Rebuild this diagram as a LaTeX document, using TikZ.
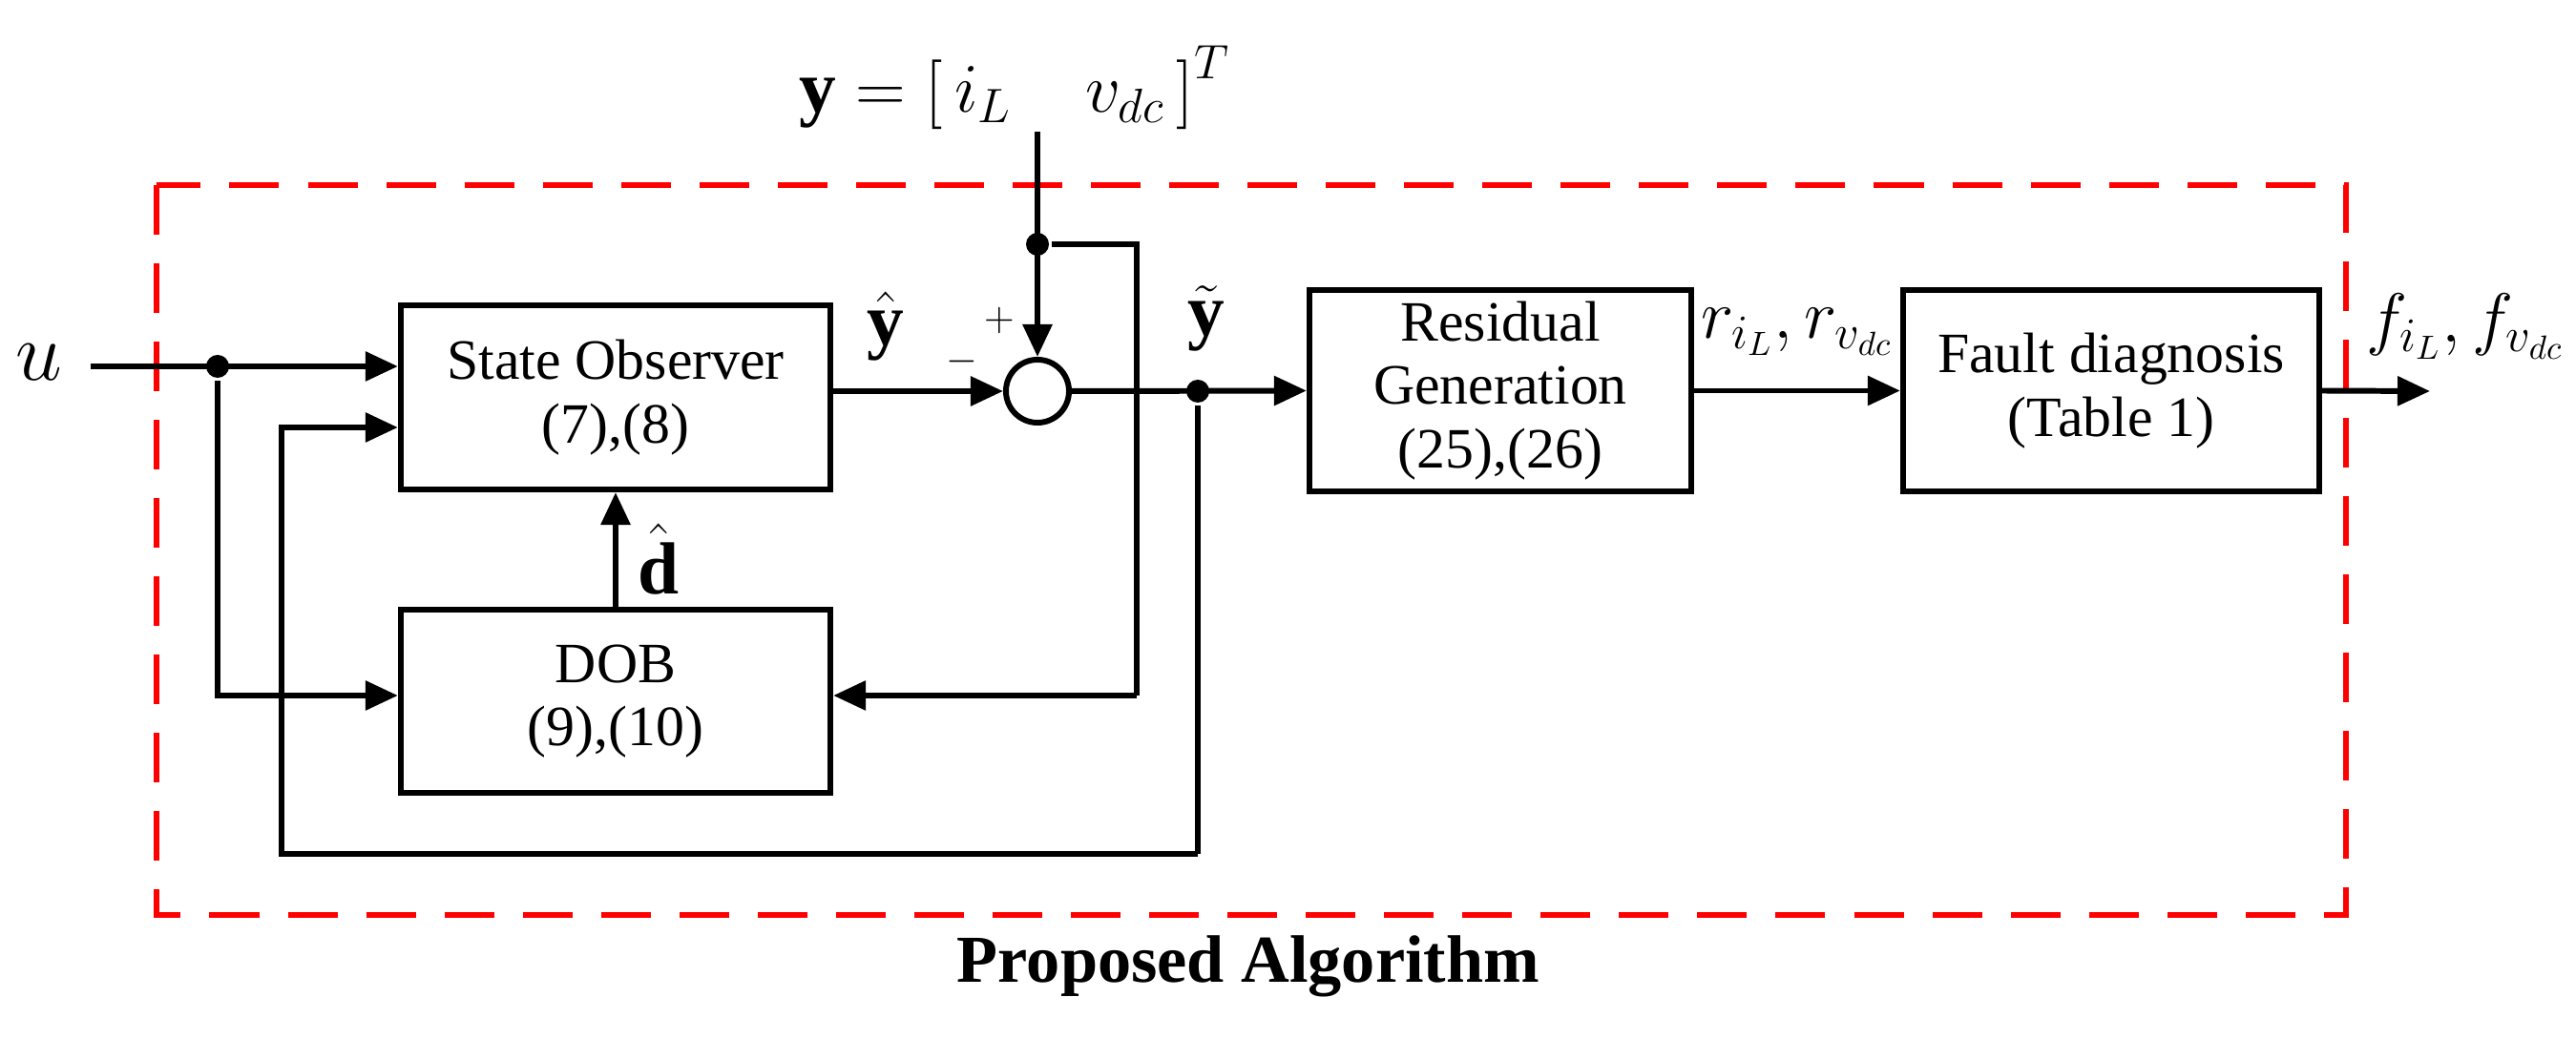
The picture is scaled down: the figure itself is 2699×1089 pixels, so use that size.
\documentclass[tikz,border=0pt]{standalone}
\usepackage{fontspec}
\setmainfont{Liberation Serif}
\usetikzlibrary{arrows.meta}
\begin{document}
\begin{tikzpicture}[x=0.01cm,y=-0.01cm,
  line width=1.7pt,
  arr/.style={-{Triangle[length=0.34cm,width=0.30cm]}},
  dot/.style={circle,fill,inner sep=0pt,minimum size=0.24cm},
  txt/.style={font=\fontsize{17}{19}\selectfont,align=center},
  lab/.style={font=\fontsize{22}{26}\selectfont,inner sep=0pt}]
\useasboundingbox (0,0) rectangle (2699,1089);
% red dashed frame
\draw[red,line width=1.8pt,dash pattern=on 0.52cm off 0.3cm] (164,194) rectangle (2458,959);
% blocks
\node[draw,txt,minimum width=4.5cm,minimum height=1.93cm] (so) at (645,416.5) {State Observer\\(7),(8)};
\node[draw,txt,minimum width=4.5cm,minimum height=1.92cm] (dob) at (645,735) {DOB\\(9),(10)};
\node[draw,txt,minimum width=4.0cm,minimum height=2.11cm] (rg) at (1572,409.5) {Residual\\Generation\\(25),(26)};
\node[draw,txt,minimum width=4.36cm,minimum height=2.11cm] (fd) at (2212,409.5) {Fault diagnosis\\(Table 1)};
\node[draw,circle,minimum size=0.66cm,inner sep=0pt] (sum) at (1087,410) {};
% coordinates
\coordinate (uin) at (95,384);
\node[dot] (j1) at (228,384) {};
\node[dot] (j2) at (1087,256) {};
\node[dot] (j3) at (1255,410) {};
\coordinate (ytop) at (1087,138);
\coordinate (c1) at (1191,256);
\coordinate (c2) at (1191,729);
\coordinate (c3) at (1255,895);
\coordinate (c4) at (295,895);
\coordinate (c5) at (295,448);
\coordinate (c6) at (228,729);
\coordinate (out) at (2546,410);
% connectors
\draw[arr] (uin) -- (so.west |- uin);
\draw[arr] (j1) -- (c6) -- (dob.west |- c6);
\draw[arr] (c3) -- (c4) -- (c5) -- (so.west |- c5);
\draw (j3) -- (c3);
\draw[arr] (dob.north) -- (so.south);
\draw[arr] (so.east |- sum) -- (sum.west);
\draw[arr] (ytop) -- (sum.north);
\draw (j2) -- (c1) -- (c2);
\draw[arr] (c2) -- (dob.east |- c2);
\draw[arr] (sum.east) -- (rg.west);
\draw[arr] (rg.east) -- (fd.west);
\draw[arr] (fd.east) -- (out);
% labels
\node[lab,font=\fontsize{30}{32}\selectfont] (lu) at (41,380) {$u$};
\node[lab] (lyh) at (928,342) {$\hat{\mathbf{y}}$};
\node[lab] (lyt) at (1264,334) {$\tilde{\mathbf{y}}$};
\node[lab] (ldh) at (690,586) {$\hat{\mathbf{d}}$};
\node[font=\fontsize{13}{14}\selectfont] (lm) at (1008,379) {$-$};
\node[font=\fontsize{13}{14}\selectfont] (lp) at (1047,336) {$+$};
\node[lab,anchor=west] (ly) at (835,92) {$\mathbf{y}=\Big[\,i_L\quad v_{dc}\,\Big]^T$};
\node[lab,font=\fontsize{20}{24}\selectfont] (lr) at (1883,348) {$r_{i_L},r_{v_{dc}}$};
\node[lab,font=\fontsize{20}{24}\selectfont] (lf) at (2583,342) {$f_{i_L},f_{v_{dc}}$};
\node[font=\bfseries\fontsize{20}{24}\selectfont] (title) at (1308,1013) {Proposed Algorithm};
\end{tikzpicture}
\end{document}
